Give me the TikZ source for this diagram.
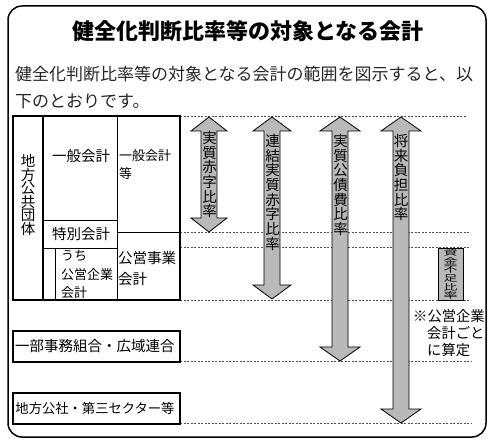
\documentclass[tikz,border=0pt]{standalone}
\usepackage{fontspec}
\newfontfamily\jp{Noto Sans CJK JP}
\definecolor{arrowgray}{RGB}{185,185,185}
\definecolor{dashgray}{RGB}{80,80,80}
\tikzset{
  txt/.style={inner sep=0pt, font=\jp\fontsize{14.5}{17}\selectfont},
  smalltxt/.style={inner sep=0pt, anchor=west, font=\jp\fontsize{13}{15}\selectfont},
  vtxt/.style={inner sep=0pt, align=center, font=\jp\fontsize{14.5}{14.7}\selectfont},
  frame/.style={line width=1.8pt},
  inner/.style={line width=0.9pt},
  guide/.style={dashgray, line width=0.6pt, dash pattern=on 2pt off 1.5pt},
  ratio/.style={draw=black, line width=0.8pt, fill=arrowgray},
}
\begin{document}
\begin{tikzpicture}[x=1pt,y=-1pt]
\useasboundingbox (0,0) rectangle (495,443);
\draw[line width=1.5pt, rounded corners=14pt] (8,6) rectangle (486,437);

\node[inner sep=0pt, font=\jp\bfseries\fontsize{22}{26}\selectfont] (title) at (248,31) {健全化判断比率等の対象となる会計};
\node[inner sep=0pt, anchor=west, font=\jp\fontsize{17}{20}\selectfont, text=black!85] (l1) at (15,74) {健全化判断比率等の対象となる会計の範囲を図示すると、以};
\node[inner sep=0pt, anchor=west, font=\jp\fontsize{17}{20}\selectfont, text=black!85] (l2) at (15,101) {下のとおりです。};

% dashed guide lines
\foreach \yy/\xe in {116/467,232/470,247/470,300/470,361/472,423/472}
  \draw[guide] (180,\yy) -- (\xe,\yy);

% left structure
\draw[inner] (43,220) -- (117,220);
\draw[inner] (117,116) -- (117,300);
\draw[inner] (117,232) -- (180,232);
\draw[inner] (55,248) rectangle (117,300);
\draw[inner] (43,248) -- (55,248);
\draw[line width=1.4pt] (43,116) -- (43,300);
\draw[frame] (13,116) rectangle (180,300);
\draw[frame] (13,331) rectangle (180,362);
\draw[frame] (13,393) rectangle (180,424);

\node[vtxt, font=\jp\fontsize{14.5}{13.6}\selectfont] (chiho) at (28,195) {地\\方\\公\\共\\団\\体};
\node[txt] (ippan) at (81,156) {一般会計};
\node[smalltxt] (ippanto1) at (119,156) {一般会計};
\node[smalltxt] (ippanto2) at (119,174) {等};
\node[txt] (tokubetsu) at (81,234) {特別会計};
\node[smalltxt] (uchi1) at (61,256) {うち};
\node[smalltxt] (uchi2) at (61,275) {公営企業};
\node[smalltxt] (uchi3) at (61,293) {会計};
\node[txt, anchor=west] (koei1) at (118,258) {公営事業};
\node[txt, anchor=west] (koei2) at (118,279) {会計};
\node[txt] (ichibu) at (95,346) {一部事務組合・広域連合};
\node[txt, font=\jp\fontsize{13.3}{16}\selectfont] (kosha) at (95,408) {地方公社・第三セクター等};

% ratio arrows
\draw[ratio] (209,117) -- (227,131) -- (217,131) -- (217,218) -- (227,218) -- (209,232) -- (191,218) -- (201,218) -- (201,131) -- (191,131) -- cycle;
\draw[ratio] (272,117) -- (291,131) -- (280,131) -- (280,285) -- (291,285) -- (272,299) -- (253,285) -- (264,285) -- (264,131) -- (253,131) -- cycle;
\draw[ratio] (340,117) -- (360,131) -- (348,131) -- (348,347) -- (360,347) -- (340,361) -- (320,347) -- (332,347) -- (332,131) -- (320,131) -- cycle;
\draw[ratio] (401,117) -- (421,131) -- (409,131) -- (409,409) -- (421,409) -- (401,423) -- (381,409) -- (393,409) -- (393,131) -- (381,131) -- cycle;
\draw[ratio] (438,248) rectangle (463,300);

\node[vtxt, anchor=north] (r1) at (209.5,131) {実\\質\\赤\\字\\比\\率};
\node[vtxt, anchor=north] (r2) at (272.5,134) {連\\結\\実\\質\\赤\\字\\比\\率};
\node[vtxt, anchor=north] (r3) at (340.5,134) {実\\質\\公\\債\\費\\比\\率};
\node[vtxt, anchor=north] (r4) at (401,134) {将\\来\\負\\担\\比\\率};
\node[vtxt, yscale=0.6, transform shape, font=\jp\fontsize{14}{14.5}\selectfont] (r5) at (450.5,274) {資\\金\\不\\足\\比\\率};

\node[txt, anchor=west, font=\jp\fontsize{14.3}{17}\selectfont] (note1) at (413,316) {※公営企業};
\node[txt, anchor=west, font=\jp\fontsize{14.3}{17}\selectfont] (note2) at (427,333) {会計ごと};
\node[txt, anchor=west, font=\jp\fontsize{14.3}{17}\selectfont] (note3) at (427,350) {に算定};
\end{tikzpicture}
\end{document}
